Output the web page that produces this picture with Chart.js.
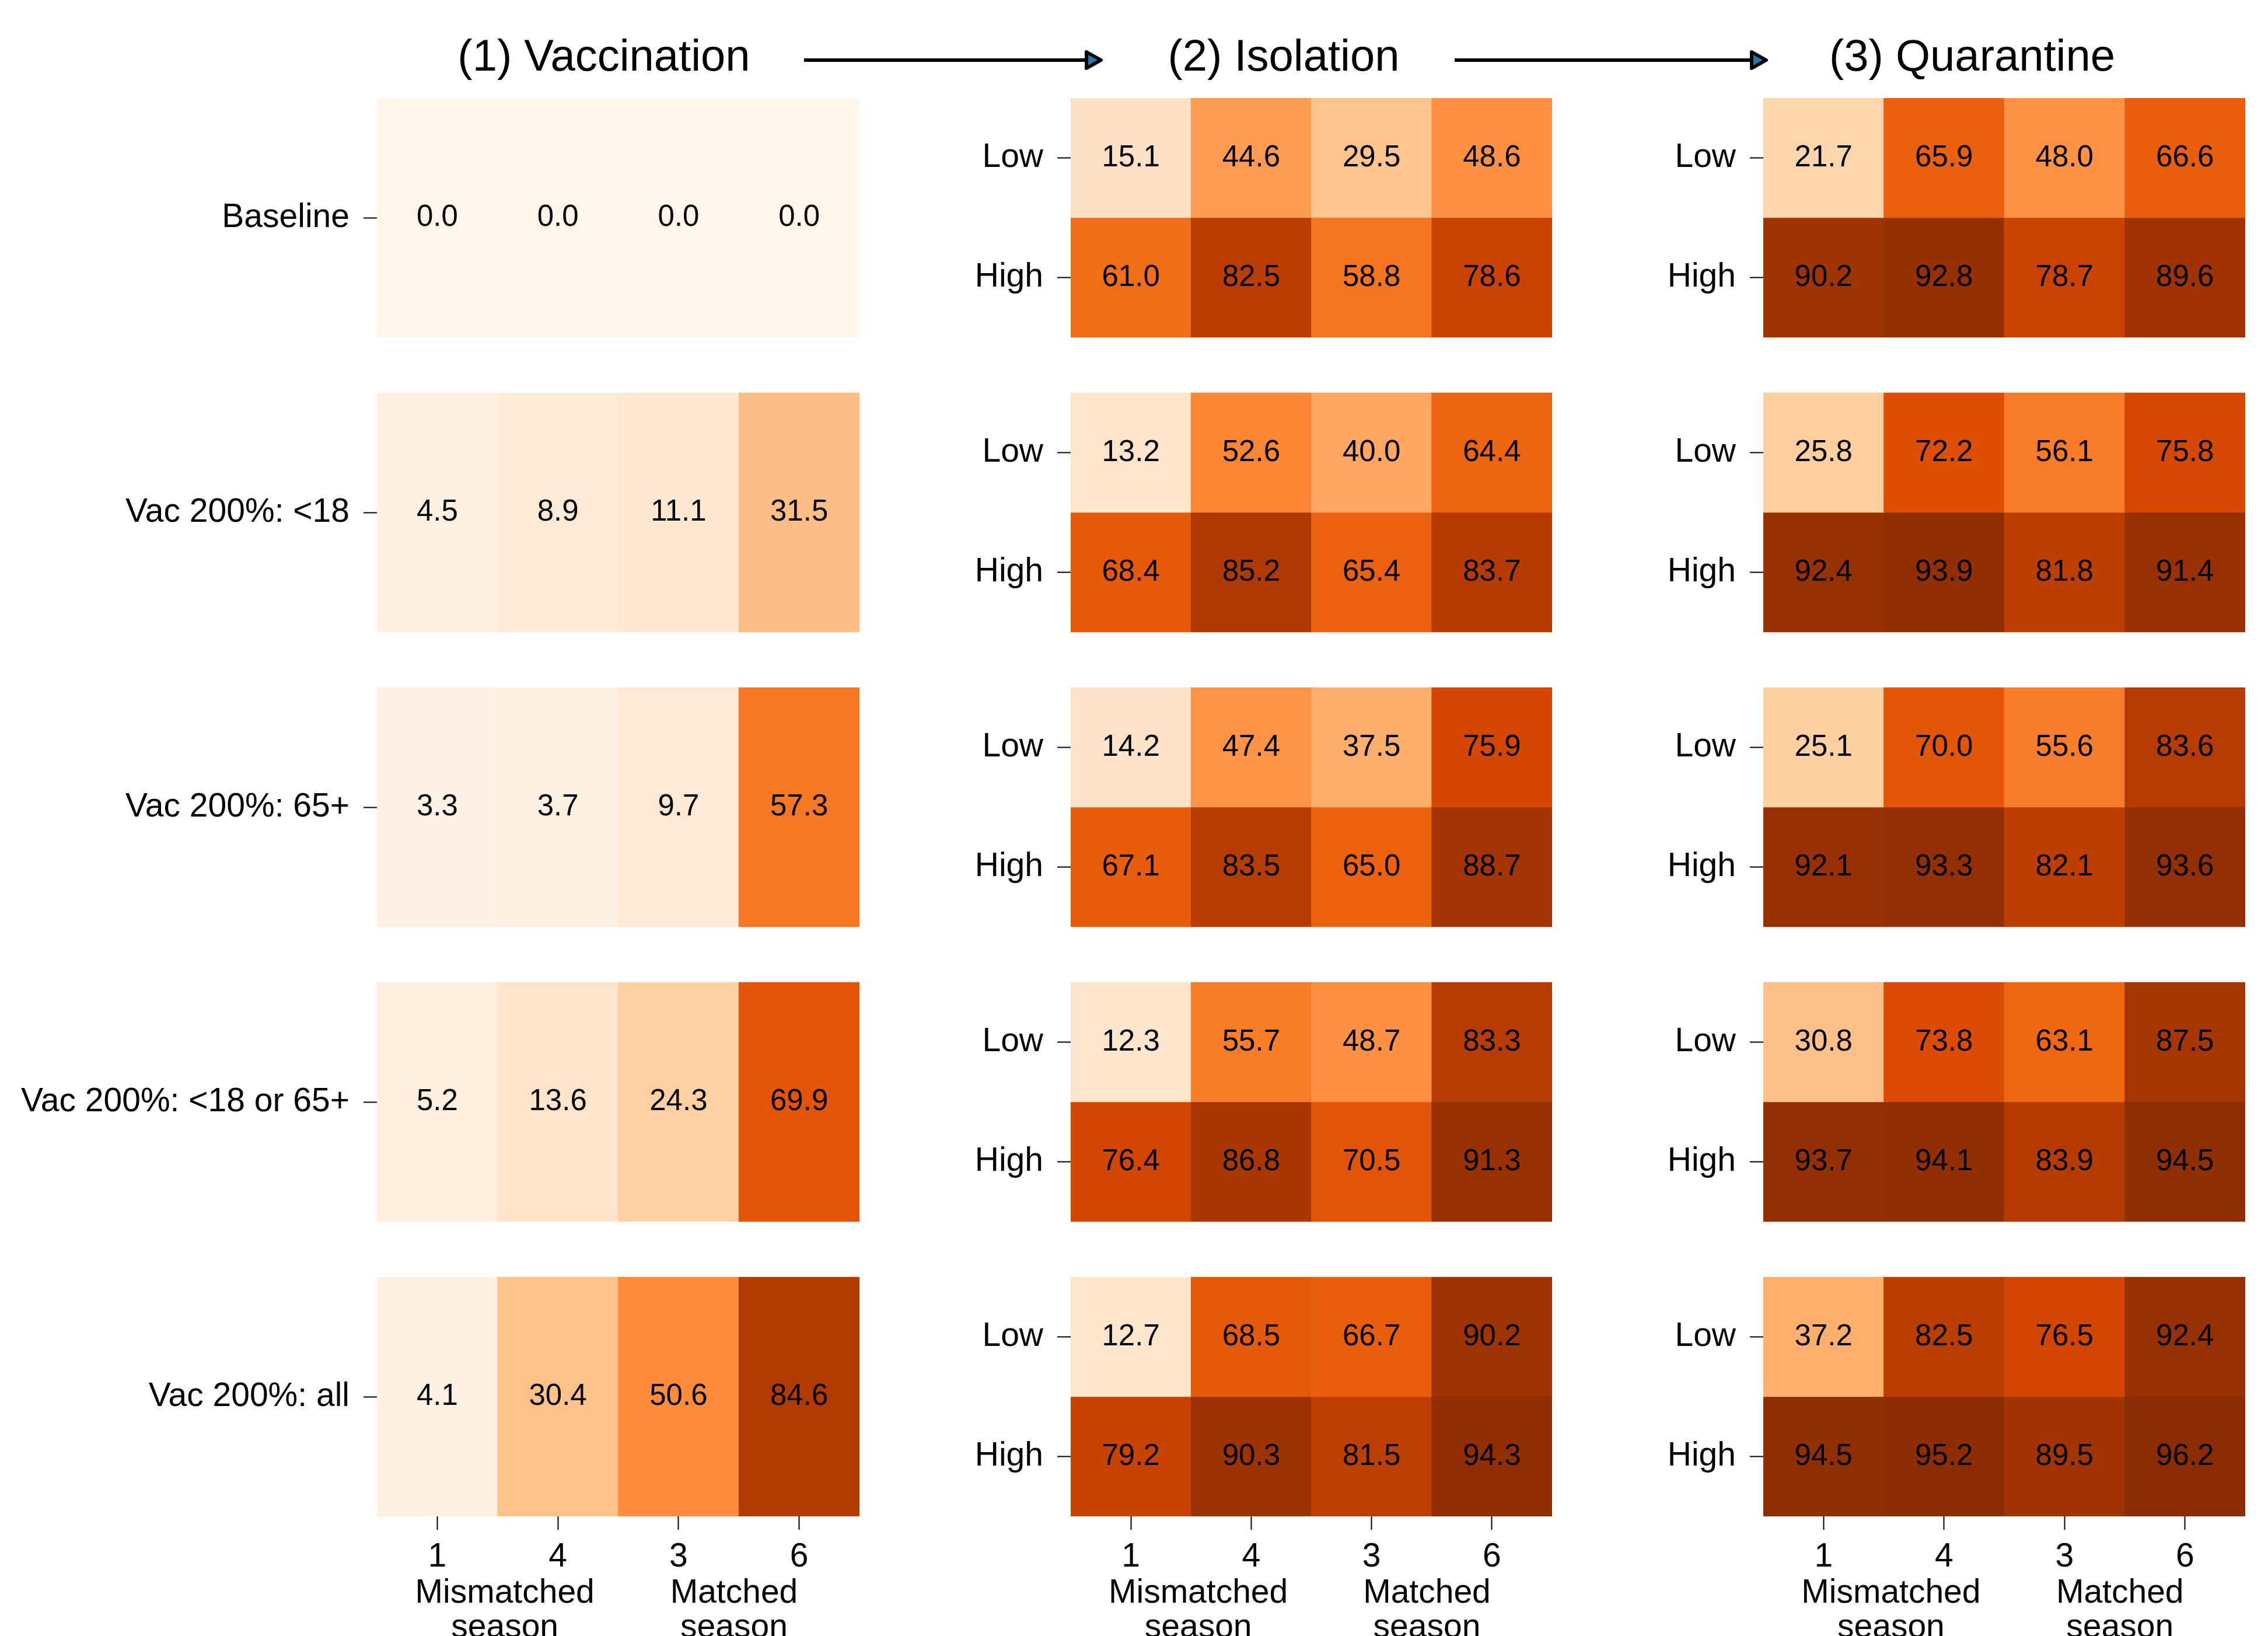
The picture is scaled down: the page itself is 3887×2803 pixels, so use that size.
<!DOCTYPE html>
<html lang="en">
<head>
    <meta charset="UTF-8">
    <title>Vaccination, isolation and quarantine heatmaps</title>
    <script src="https://cdn.jsdelivr.net/npm/chart.js"></script>
    <style>
        body {
            margin: 0;
            padding: 0;
            background: #ffffff;
            font-family: 'Liberation Sans', Arial, sans-serif;
        }
        #figure {
            position: relative;
            width: 3887px;
            height: 2803px;
            overflow: hidden;
        }
        #figure canvas {
            position: absolute;
            top: 0;
        }
        .panel-title {
            position: absolute;
            top: 57px;
            width: 800px;
            margin-left: -400px;
            text-align: center;
            font-size: 76px;
            line-height: 76px;
            color: #000;
            white-space: nowrap;
        }
        #arrows {
            position: absolute;
            left: 0;
            top: 0;
        }
    </style>
</head>
<body>

<div id="figure">
    <canvas id="vacChart" width="1500" height="2803" style="left:0px"></canvas>
    <canvas id="isoChart" width="1200" height="2803" style="left:1500px"></canvas>
    <canvas id="quaChart" width="1187" height="2803" style="left:2700px"></canvas>
    <div class="panel-title" id="title1" style="left:1035px"></div>
    <div class="panel-title" id="title2" style="left:2200px"></div>
    <div class="panel-title" id="title3" style="left:3380px"></div>
    <svg id="arrows" width="3887" height="200">
        <line x1="1378" y1="103" x2="1866" y2="103" stroke="#000" stroke-width="6"/>
        <polygon points="1862,89 1862,117 1887,103" fill="#1f77b4" stroke="#000" stroke-width="6" stroke-linejoin="round"/>
        <line x1="2493" y1="103" x2="3006" y2="103" stroke="#000" stroke-width="6"/>
        <polygon points="3002,89 3002,117 3027,103" fill="#1f77b4" stroke="#000" stroke-width="6" stroke-linejoin="round"/>
    </svg>
</div>

<script>
    // ---- data ----
    var panelTitles = ['(1) Vaccination', '(2) Isolation', '(3) Quarantine'];
    var seasons = ['1', '4', '3', '6'];
    var seasonGroups = [['Mismatched', 'season'], ['Matched', 'season']];
    var scenarios = ['Baseline', 'Vac 200%: <18', 'Vac 200%: 65+', 'Vac 200%: <18 or 65+', 'Vac 200%: all'];
    var levels = ['Low', 'High'];

    var vaccination = [
        [0.0, 0.0, 0.0, 0.0],
        [4.5, 8.9, 11.1, 31.5],
        [3.3, 3.7, 9.7, 57.3],
        [5.2, 13.6, 24.3, 69.9],
        [4.1, 30.4, 50.6, 84.6]
    ];
    var isolationLow = [
        [15.1, 44.6, 29.5, 48.6],
        [13.2, 52.6, 40.0, 64.4],
        [14.2, 47.4, 37.5, 75.9],
        [12.3, 55.7, 48.7, 83.3],
        [12.7, 68.5, 66.7, 90.2]
    ];
    var isolationHigh = [
        [61.0, 82.5, 58.8, 78.6],
        [68.4, 85.2, 65.4, 83.7],
        [67.1, 83.5, 65.0, 88.7],
        [76.4, 86.8, 70.5, 91.3],
        [79.2, 90.3, 81.5, 94.3]
    ];
    var quarantineLow = [
        [21.7, 65.9, 48.0, 66.6],
        [25.8, 72.2, 56.1, 75.8],
        [25.1, 70.0, 55.6, 83.6],
        [30.8, 73.8, 63.1, 87.5],
        [37.2, 82.5, 76.5, 92.4]
    ];
    var quarantineHigh = [
        [90.2, 92.8, 78.7, 89.6],
        [92.4, 93.9, 81.8, 91.4],
        [92.1, 93.3, 82.1, 93.6],
        [93.7, 94.1, 83.9, 94.5],
        [94.5, 95.2, 89.5, 96.2]
    ];

    // ---- helpers ----
    var FONT = "'Liberation Sans', Arial, sans-serif";
    Chart.defaults.font.family = FONT;
    Chart.defaults.color = '#000';

    // matplotlib "Oranges", 0..100
    var orangeStops = [
        [255, 245, 235], [254, 230, 206], [253, 208, 162], [253, 174, 107],
        [253, 141, 60], [241, 105, 19], [217, 72, 1], [166, 54, 3], [127, 39, 4]
    ];
    function oranges(v) {
        var t = Math.max(0, Math.min(1, v / 100)) * (orangeStops.length - 1);
        var i = Math.min(Math.floor(t), orangeStops.length - 2);
        var f = t - i;
        var a = orangeStops[i], b = orangeStops[i + 1];
        return 'rgb(' + [0, 1, 2].map(function (k) { return Math.round(a[k] + (b[k] - a[k]) * f); }).join(',') + ')';
    }

    // each scenario block is 2 units tall, blocks separated by a gap
    var BLOCK = 2;
    var GAP = 95 / 205;
    var STEP = BLOCK + GAP;
    var YMAX = scenarios.length * BLOCK + (scenarios.length - 1) * GAP;
    // where the two season-group captions sit, in column units
    var groupPos = [0.56, 2.46];

    // writes the value in the middle of each cell
    var cellText = {
        id: 'cellText',
        afterDatasetsDraw: function (chart) {
            var ctx = chart.ctx;
            ctx.save();
            ctx.font = '51px ' + FONT;
            ctx.fillStyle = '#000';
            ctx.textAlign = 'center';
            ctx.textBaseline = 'middle';
            chart.data.datasets.forEach(function (ds, i) {
                chart.getDatasetMeta(i).data.forEach(function (bar, j) {
                    ctx.fillText(ds.vals[j].toFixed(1), bar.x, (bar.y + bar.base) / 2);
                });
            });
            ctx.restore();
        }
    };

    function makeHeatmap(canvasId, rows, tickValues, tickLabels, yWidth, padRight) {
        var datasets = rows.map(function (r) {
            return {
                data: r.vals.map(function () { return [r.y0, r.y1]; }),
                vals: r.vals,
                backgroundColor: r.vals.map(oranges),
                borderWidth: 0,
                barPercentage: 1,
                categoryPercentage: 1,
                grouped: false
            };
        });
        return new Chart(document.getElementById(canvasId), {
            type: 'bar',
            data: { labels: seasons, datasets: datasets },
            options: {
                responsive: false,
                devicePixelRatio: 1,
                animation: false,
                layout: { padding: { top: 168, left: 0, right: padRight, bottom: 0 } },
                plugins: { legend: { display: false }, tooltip: { enabled: false } },
                scales: {
                    x: {
                        type: 'category',
                        offset: true,
                        weight: 0,
                        grid: { display: true, drawOnChartArea: false, drawTicks: true, tickLength: 23, tickWidth: 2, tickColor: '#000', offset: false },
                        border: { display: false },
                        ticks: { font: { size: 57 }, padding: 13, maxRotation: 0, autoSkip: false },
                        afterFit: function (s) { s.height = 95; }
                    },
                    xg: {
                        type: 'linear',
                        position: 'bottom',
                        min: -0.5,
                        max: seasons.length - 0.5,
                        offset: false,
                        weight: 1,
                        grid: { display: false, offset: false },
                        border: { display: false },
                        afterBuildTicks: function (s) {
                            s.ticks = groupPos.map(function (v) { return { value: v }; });
                        },
                        ticks: {
                            font: { size: 57, lineHeight: 1.035 },
                            padding: 0,
                            maxRotation: 0,
                            autoSkip: false,
                            callback: function (value, index) { return seasonGroups[index]; }
                        },
                        afterFit: function (s) { s.height = 110; }
                    },
                    y: {
                        type: 'linear',
                        reverse: true,
                        min: 0,
                        max: YMAX,
                        grid: { display: true, drawOnChartArea: false, drawTicks: true, tickLength: 23, tickWidth: 2, tickColor: '#000' },
                        border: { display: false },
                        afterBuildTicks: function (s) {
                            s.ticks = tickValues.map(function (v) { return { value: v }; });
                        },
                        ticks: {
                            font: { size: 57 },
                            padding: 24,
                            autoSkip: false,
                            callback: function (value, index) { return tickLabels[index]; }
                        },
                        afterFit: function (s) { s.width = yWidth; }
                    }
                }
            },
            plugins: [cellText]
        });
    }

    document.addEventListener('DOMContentLoaded', function () {
        panelTitles.forEach(function (t, i) {
            document.getElementById('title' + (i + 1)).textContent = t;
        });

        // (1) vaccination: one row per scenario
        var vacRows = vaccination.map(function (vals, b) {
            return { vals: vals, y0: b * STEP, y1: b * STEP + BLOCK };
        });
        var vacTicks = scenarios.map(function (s, b) { return b * STEP + BLOCK / 2; });
        makeHeatmap('vacChart', vacRows, vacTicks, scenarios, 646, 27);

        // (2) and (3): Low / High rows per scenario
        function twoLevelRows(low, high) {
            var rows = [];
            low.forEach(function (vals, b) {
                rows.push({ vals: vals, y0: b * STEP, y1: b * STEP + 1 });
                rows.push({ vals: high[b], y0: b * STEP + 1, y1: b * STEP + 2 });
            });
            return rows;
        }
        var lvTicks = [], lvLabels = [];
        scenarios.forEach(function (s, b) {
            levels.forEach(function (lv, k) {
                lvTicks.push(b * STEP + k + 0.5);
                lvLabels.push(lv);
            });
        });
        makeHeatmap('isoChart', twoLevelRows(isolationLow, isolationHigh), lvTicks, lvLabels, 335, 40);
        makeHeatmap('quaChart', twoLevelRows(quarantineLow, quarantineHigh), lvTicks, lvLabels, 322, 39);
    });
</script>
</body>
</html>
